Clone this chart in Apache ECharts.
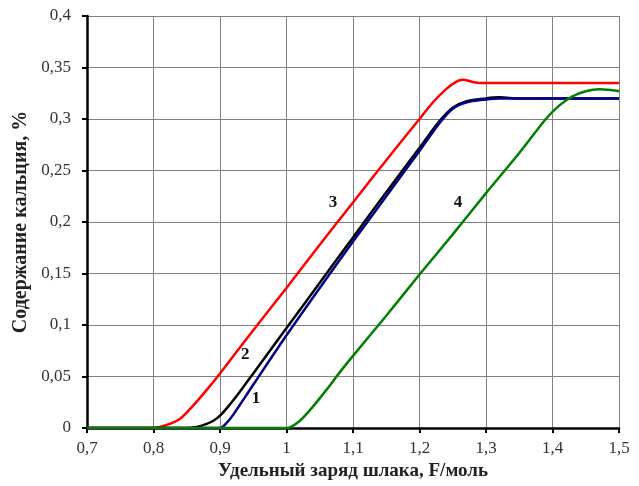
<!DOCTYPE html>
<html><head><meta charset="utf-8">
<script src="https://cdn.jsdelivr.net/npm/echarts@6/dist/echarts.min.js"></script>
<style>html,body{margin:0;padding:0;background:#fff}#c{width:639px;height:486px}</style>
</head><body><div id="c"></div>
<script>
const xTicks = [0.7,0.8,0.9,1.0,1.1,1.2,1.3,1.4,1.5];
const s1 = [[0.7,0],[0.9,0],[0.91,0.005],[0.92,0.013],[0.95,0.042],[1.0,0.09],[1.05,0.136],[1.1,0.181],[1.15,0.225],[1.2,0.269],[1.23,0.296],[1.25,0.31],[1.27,0.316],[1.3,0.319],[1.32,0.32],[1.5,0.32]];
const s2 = [[0.7,0],[0.85,0],[0.865,0.001],[0.88,0.004],[0.89,0.007],[0.9,0.012],[0.91,0.019],[0.925,0.031],[0.95,0.053],[1.0,0.097],[1.05,0.141],[1.1,0.185],[1.15,0.229],[1.2,0.272],[1.23,0.298],[1.25,0.311],[1.27,0.317],[1.3,0.32],[1.32,0.321],[1.35,0.32],[1.5,0.32]];
const s3 = [[0.7,0],[0.8,0],[0.82,0.003],[0.84,0.009],[0.86,0.022],[0.88,0.037],[0.9,0.053],[0.95,0.095],[1.0,0.136],[1.05,0.178],[1.1,0.219],[1.15,0.26],[1.2,0.3],[1.22,0.316],[1.24,0.329],[1.255,0.336],[1.265,0.338],[1.28,0.336],[1.29,0.335],[1.5,0.335]];
const s4 = [[0.7,0],[1.0,0],[1.02,0.007],[1.04,0.021],[1.06,0.037],[1.08,0.054],[1.1,0.07],[1.15,0.109],[1.2,0.149],[1.25,0.188],[1.3,0.228],[1.35,0.267],[1.39,0.3],[1.41,0.313],[1.43,0.322],[1.45,0.327],[1.47,0.329],[1.49,0.328],[1.5,0.327]];
const curveLabels = [
  {name:'1', coord:[0.954,0.029]},
  {name:'2', coord:[0.938,0.071]},
  {name:'3', coord:[1.07,0.219]},
  {name:'4', coord:[1.258,0.219]}
];
const fmt = v => String(+(+v).toFixed(2)).replace('.', ',');
const font = '"Liberation Serif", "Times New Roman", serif';
function mk(name, data, color, lbl){
  return {
    type:'line', name, data, smooth:0.3, symbol:'none', animation:false,
    lineStyle:{color, width:2.5}, itemStyle:{color},
    markPoint: lbl ? {
      symbol:'circle', symbolSize:1, itemStyle:{color:'rgba(0,0,0,0)'},
      label:{show:true, position:'inside', formatter:lbl.name, color:'#111', fontFamily:font, fontWeight:'bold', fontSize:17},
      data:[{coord:lbl.coord}]
    } : undefined
  };
}
const chart = echarts.init(document.getElementById('c'));
chart.setOption({
  backgroundColor:'#fff',
  animation:false,
  grid:{left:87, right:20, top:16, bottom:58},
  xAxis:{type:'value', min:0.7, max:1.5, interval:0.1,
    name:'Удельный заряд шлака, F/моль', nameLocation:'middle', nameGap:32,
    nameTextStyle:{fontFamily:font, fontWeight:'bold', fontSize:19, color:'#222'},
    axisLine:{show:true, onZero:false, lineStyle:{color:'#000', width:2.5}},
    axisTick:{show:true, inside:false, length:5, lineStyle:{color:'#000', width:2}},
    axisLabel:{formatter:fmt, fontFamily:font, fontSize:17, color:'#333', margin:12},
    splitLine:{show:true, lineStyle:{color:'#808080', width:1}}
  },
  yAxis:{type:'value', min:0, max:0.4, interval:0.05,
    name:'Содержание кальция, %', nameLocation:'middle', nameGap:52,
    nameTextStyle:{fontFamily:font, fontWeight:'bold', fontSize:20, color:'#222'},
    axisLine:{show:true, lineStyle:{color:'#000', width:2.5}},
    axisTick:{show:true, inside:false, length:5, lineStyle:{color:'#000', width:2}},
    axisLabel:{formatter:fmt, fontFamily:font, fontSize:17, color:'#333', margin:16},
    splitLine:{show:true, lineStyle:{color:'#808080', width:1}}
  },
  series:[
    mk('3', s3, '#ff0000', curveLabels[2]),
    mk('2', s2, '#000000', curveLabels[1]),
    mk('1', s1, '#00008b', curveLabels[0]),
    mk('4', s4, '#008000', curveLabels[3])
  ]
});
</script></body></html>
